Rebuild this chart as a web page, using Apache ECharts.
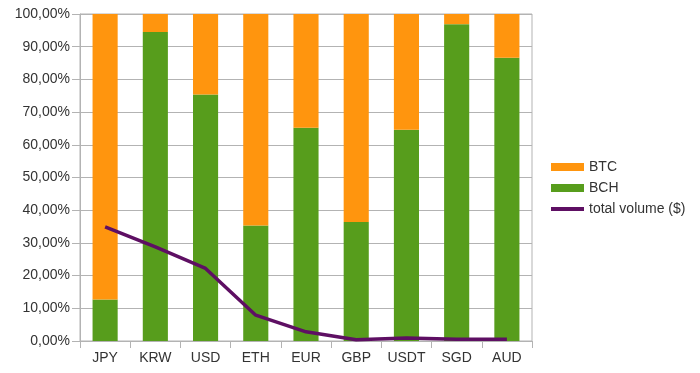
<!DOCTYPE html>
<html>
<head>
<meta charset="utf-8">
<script src="https://cdn.jsdelivr.net/npm/echarts@6/dist/echarts.min.js"></script>
<style>
html,body{margin:0;padding:0;background:#fff;}
#chart{width:700px;height:373px;}
</style>
</head>
<body>
<div id="chart"></div>
<script>
const categories = ['JPY','KRW','USD','ETH','EUR','GBP','USDT','SGD','AUD'];
const bchShare = [0.127,0.945,0.754,0.353,0.652,0.364,0.646,0.969,0.866];
const btcShare = [0.873,0.055,0.246,0.647,0.348,0.636,0.354,0.031,0.134];
const totalVolume = [0.349,0.288,0.222,0.079,0.028,0.004,0.009,0.005,0.005];
const yTicks = [0,0.1,0.2,0.3,0.4,0.5,0.6,0.7,0.8,0.9,1.0];

const chart = echarts.init(document.getElementById('chart'), null, {renderer:'canvas'});
const fontFamily = '"Liberation Sans", Arial, sans-serif';
const gridColor = '#b3b3b3';
const lineColor = '#5e0f63';
chart.setOption({
  animation:false,
  backgroundColor:'#ffffff',
  textStyle:{fontFamily:fontFamily},
  grid:{left:80,top:14,right:168,bottom:32,show:true,borderColor:gridColor,borderWidth:1,backgroundColor:'transparent'},
  legend:{
    orient:'vertical',
    left:551,
    top:160,
    padding:0,
    itemWidth:33,
    itemHeight:8,
    itemGap:7,
    symbolKeepAspect:true,
    textStyle:{fontSize:14,color:'#333',fontFamily:fontFamily},
    data:[
      {name:'BTC',icon:'rect'},
      {name:'BCH',icon:'rect'},
      {name:'total volume ($)',icon:'path://M0,0 L33,0 L33,4 L0,4 Z',itemStyle:{color:lineColor}}
    ]
  },
  xAxis:{
    type:'category',
    data:categories,
    axisLine:{lineStyle:{color:gridColor}},
    axisTick:{show:true,length:7,lineStyle:{color:gridColor}},
    axisLabel:{fontSize:14,color:'#333',margin:10,fontFamily:fontFamily}
  },
  yAxis:{
    type:'value',
    min:yTicks[0],
    max:yTicks[yTicks.length-1],
    interval:0.1,
    axisLine:{show:true,lineStyle:{color:gridColor}},
    axisTick:{show:true,length:8,lineStyle:{color:gridColor}},
    splitLine:{lineStyle:{color:gridColor}},
    axisLabel:{fontSize:14,color:'#333',margin:10,fontFamily:fontFamily,
      formatter:function(v){return (v*100).toFixed(2).replace('.',',')+'%';}}
  },
  series:[
    {name:'BCH',type:'bar',stack:'s',data:bchShare,barWidth:'50%',itemStyle:{color:'#579d1c'}},
    {name:'BTC',type:'bar',stack:'s',data:btcShare,barWidth:'50%',itemStyle:{color:'#ff950e'}},
    {name:'total volume ($)',type:'line',data:totalVolume,symbol:'none',z:5,
      lineStyle:{color:lineColor,width:3.5},itemStyle:{color:lineColor}}
  ]
});
</script>
</body>
</html>
